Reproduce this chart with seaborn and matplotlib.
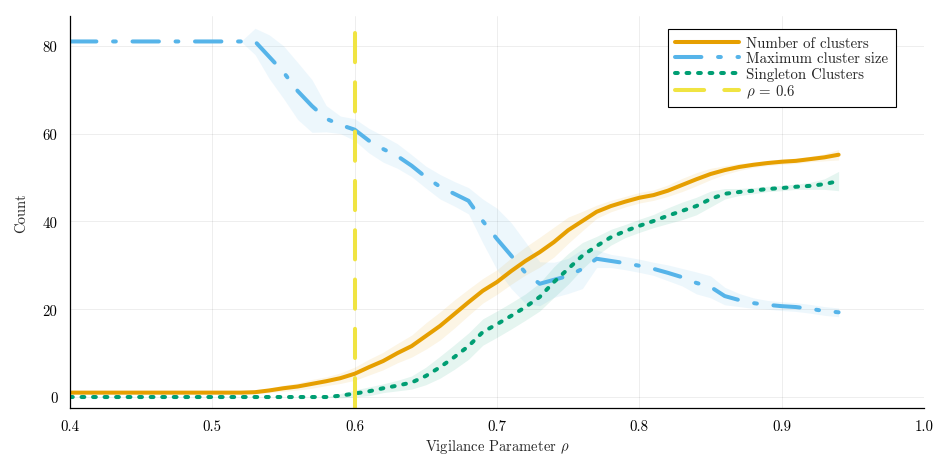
import numpy as np
import pandas as pd
import matplotlib
matplotlib.use("Agg")
import matplotlib.pyplot as plt
import seaborn as sns

# ---------------- data ----------------
rho = [0.40, 0.41, 0.42, 0.43, 0.44, 0.45, 0.46, 0.47, 0.48, 0.49,
       0.50, 0.51, 0.52, 0.53, 0.54, 0.55, 0.56, 0.57, 0.58, 0.59,
       0.60, 0.61, 0.62, 0.63, 0.64, 0.65, 0.66, 0.67, 0.68, 0.69,
       0.70, 0.71, 0.72, 0.73, 0.74, 0.75, 0.76, 0.77, 0.78, 0.79,
       0.80, 0.81, 0.82, 0.83, 0.84, 0.85, 0.86, 0.87, 0.88, 0.89,
       0.90, 0.91, 0.92, 0.93, 0.94]

n_clusters = [1.0, 1.0, 1.0, 1.0, 1.0, 1.0, 1.0, 1.0, 1.0, 1.0,
              1.0, 1.0, 1.0, 1.1, 1.5, 2.0, 2.4, 3.0, 3.6, 4.3,
              5.3, 6.8, 8.2, 10.0, 11.6, 13.9, 16.2, 18.9, 21.6, 24.2,
              26.2, 28.7, 31.0, 33.0, 35.3, 38.0, 40.1, 42.2, 43.5, 44.5,
              45.4, 46.0, 47.0, 48.3, 49.6, 50.8, 51.7, 52.4, 52.9, 53.3,
              53.6, 53.8, 54.2, 54.6, 55.2]
n_clusters_sd = [0, 0, 0, 0, 0, 0, 0, 0, 0, 0,
                 0, 0, 0, 0.3, 0.5, 0.7, 0.8, 1.0, 1.0, 1.2,
                 1.5, 1.8, 2.0, 2.2, 2.5, 3.0, 3.2, 3.2, 3.0, 2.8,
                 2.8, 3.0, 3.2, 3.4, 3.4, 3.0, 2.2, 1.5, 1.3, 1.2,
                 1.2, 1.2, 1.3, 1.5, 1.5, 1.3, 1.0, 0.8, 0.6, 0.6,
                 0.6, 0.6, 0.6, 0.8, 1.2]

max_size = [81.0, 81.0, 81.0, 81.0, 81.0, 81.0, 81.0, 81.0, 81.0, 81.0,
            81.0, 81.0, 81.0, 81.0, 77.5, 74.0, 69.7, 66.3, 63.4, 62.0,
            60.9, 58.4, 56.5, 54.9, 52.7, 50.1, 47.9, 46.3, 44.7, 40.1,
            36.0, 32.2, 28.3, 25.8, 26.7, 27.6, 29.2, 31.5, 31.0, 30.5,
            29.9, 29.2, 28.3, 27.3, 26.0, 25.1, 23.0, 22.1, 21.4, 21.0,
            20.7, 20.5, 20.1, 19.6, 19.3]
max_size_sd = [0, 0, 0, 0, 0, 0, 0, 0, 0, 0,
               0, 0, 0, 3.0, 5.0, 6.0, 6.5, 6.0, 3.0, 2.0,
               2.5, 2.8, 3.0, 2.8, 2.5, 2.5, 2.8, 2.8, 3.0, 5.0,
               7.0, 7.5, 7.0, 5.0, 4.0, 4.0, 4.5, 2.0, 1.5, 1.5,
               1.5, 1.5, 1.8, 2.0, 2.5, 2.5, 2.0, 1.5, 1.2, 1.0,
               1.0, 1.0, 1.0, 1.0, 1.0]

singletons = [0.0, 0.0, 0.0, 0.0, 0.0, 0.0, 0.0, 0.0, 0.0, 0.0,
              0.0, 0.0, 0.0, 0.0, 0.0, 0.0, 0.0, 0.0, 0.0, 0.3,
              0.8, 1.3, 2.0, 2.6, 3.3, 4.8, 6.8, 9.1, 11.6, 14.8,
              16.6, 18.5, 20.5, 22.8, 26.2, 29.2, 32.2, 34.4, 36.4, 37.8,
              39.0, 40.1, 41.3, 42.4, 43.5, 45.1, 46.3, 46.7, 47.0, 47.4,
              47.6, 47.9, 48.1, 48.5, 49.2]
singletons_sd = [0, 0, 0, 0, 0, 0, 0, 0, 0, 0,
                 0, 0, 0, 0, 0, 0, 0, 0, 0, 0.5,
                 0.8, 1.0, 1.0, 1.2, 1.5, 2.0, 2.5, 2.8, 3.0, 3.0,
                 3.0, 3.0, 3.0, 3.2, 3.5, 3.5, 3.0, 2.2, 1.8, 1.5,
                 1.5, 1.5, 1.8, 2.0, 2.0, 1.8, 1.2, 0.8, 0.7, 0.6,
                 0.6, 0.6, 0.8, 1.2, 2.2]

rho_mark = 0.6
rho_line_top = 83.0

labels = ["Number of clusters", "Maximum cluster size", "Singleton Clusters", r"$\rho$ = 0.6"]
x_ticks = [0.4, 0.5, 0.6, 0.7, 0.8, 0.9, 1.0]
y_ticks = [0, 20, 40, 60, 80]

# ---------------- style ----------------
sns.set_style("white")
plt.rcParams["font.family"] = ["cmr10", "DejaVu Serif"]
plt.rcParams["mathtext.fontset"] = "cm"
plt.rcParams["axes.formatter.use_mathtext"] = True
plt.rcParams["lines.scale_dashes"] = False

c_orange = "#E69F00"
c_blue = "#56B4E9"
c_green = "#009E73"
c_yellow = "#F0E442"

fig = plt.figure(figsize=(9.35, 4.56), dpi=100)
ax = fig.add_axes([70 / 935, 47 / 456, 854 / 935, 392 / 456])

df = pd.DataFrame({"rho": rho, "n": n_clusters, "n_sd": n_clusters_sd,
                   "m": max_size, "m_sd": max_size_sd,
                   "s": singletons, "s_sd": singletons_sd})

lw = 2.9
series = [
    ("n", "n_sd", c_orange, "-", labels[0]),
    ("m", "m_sd", c_blue, (0, (19.0, 12.0, 2.0, 12.0)), labels[1]),
    ("s", "s_sd", c_green, (0, (2.0, 6.3)), labels[2]),
]
for col, sdcol, color, ls, lab in series:
    ax.fill_between(df["rho"], df[col] - df[sdcol], df[col] + df[sdcol],
                    color=color, alpha=0.1, linewidth=0)
    sns.lineplot(data=df, x="rho", y=col, ax=ax, color=color, linewidth=lw,
                 linestyle=ls, errorbar=None, label=lab, legend=False,
                 solid_capstyle="round", dash_capstyle="round")

vdf = pd.DataFrame({"x": [rho_mark, rho_mark], "y": [rho_line_top, -10.0]})
sns.lineplot(data=vdf, x="x", y="y", ax=ax, color=c_yellow, linewidth=lw,
             linestyle=(0, (21.0, 14.5)), errorbar=None, estimator=None,
             sort=False, label=labels[3], legend=False, dash_capstyle="round")

ax.set_xlim(0.4, 1.0)
ax.set_ylim(-2.5, 86.8)
ax.set_xticks(x_ticks)
ax.set_xticklabels([f"{t:.1f}" for t in x_ticks])
ax.set_yticks(y_ticks)
ax.set_yticklabels([str(t) for t in y_ticks])
ax.tick_params(axis="both", direction="in", length=4, width=0.8, labelsize=10.7,
               color="black", labelcolor="black")
ax.tick_params(axis="x", pad=8)
ax.tick_params(axis="y", pad=9)
ax.grid(True, color="#000000", alpha=0.08, linewidth=0.6)
for side in ["top", "right"]:
    ax.spines[side].set_visible(False)
for side in ["left", "bottom"]:
    ax.spines[side].set_visible(True)
    ax.spines[side].set_color("black")
    ax.spines[side].set_linewidth(0.9)

ax.set_xlabel(r"Vigilance Parameter $\rho$", fontsize=10.5, labelpad=3)
ax.set_ylabel("Count", fontsize=10.5, labelpad=10)

leg = ax.legend(loc="upper right", bbox_to_anchor=(0.967, 0.967), fontsize=10.7,
                frameon=True, fancybox=False, framealpha=1.0, edgecolor="black",
                handlelength=4.3, handletextpad=0.5, labelspacing=0.1,
                borderpad=0.5, borderaxespad=0.0)
leg.get_frame().set_linewidth(0.8)

fig.savefig("out.png", dpi=100)
